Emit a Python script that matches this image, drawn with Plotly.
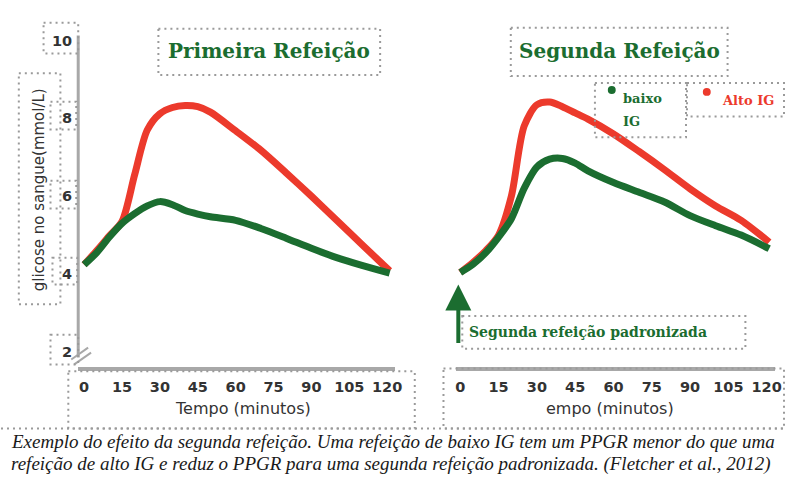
import plotly.graph_objects as go

W, H = 791, 477

# ---- data ----
t = [0, 5, 10, 15, 20, 25, 30, 35, 40, 45, 50, 60, 70, 80, 90, 100, 110, 121]
first_low  = [4.24, 4.55, 4.95, 5.30, 5.55, 5.75, 5.86, 5.78, 5.63, 5.54, 5.47, 5.38, 5.17, 4.92, 4.66, 4.42, 4.22, 4.02]
first_high = [4.24, 4.60, 4.98, 5.35, 6.55, 7.70, 8.12, 8.28, 8.33, 8.30, 8.16, 7.68, 7.18, 6.60, 6.00, 5.38, 4.76, 4.08]
second_low  = [4.04, 4.25, 4.55, 4.95, 5.42, 6.20, 6.75, 6.95, 6.97, 6.85, 6.65, 6.35, 6.10, 5.85, 5.50, 5.24, 5.00, 4.65]
second_high = [4.04, 4.30, 4.60, 5.00, 6.00, 7.80, 8.35, 8.42, 8.30, 8.14, 7.98, 7.60, 7.15, 6.68, 6.19, 5.75, 5.38, 4.82]

x_ticks = [0, 15, 30, 45, 60, 75, 90, 105, 120]
y_ticks = [2, 4, 6, 8, 10]
y_title = "glicose no sangue(mmol/L)"
x_title_left = "Tempo (minutos)"
x_title_right = "empo (minutos)"
title_left = "Primeira Refeição"
title_right = "Segunda Refeição"
legend_low = ["baixo", "IG"]
legend_high = "Alto IG"
arrow_label = "Segunda refeição padronizada"
caption = ["Exemplo do efeito da segunda refeição. Uma refeição de baixo IG tem um PPGR menor do que uma",
           "refeição de alto IG e reduz o PPGR para uma segunda refeição padronizada. (Fletcher et al., 2012)"]

RED = "#ec3a2c"
GREEN = "#1b6d30"
GRAY = "#a8a8a8"
DOT = "#9a9a9a"


def X(px):
    return px / W


def Y(py):
    return 1 - py / H


fig = go.Figure()
for xa, ya, lo, hi in [("x", "y", first_low, first_high), ("x2", "y2", second_low, second_high)]:
    fig.add_trace(go.Scatter(x=t, y=hi, xaxis=xa, yaxis=ya, mode="lines",
                             line=dict(color=RED, width=7, shape="spline", smoothing=0.8),
                             showlegend=False, hoverinfo="skip"))
    fig.add_trace(go.Scatter(x=t, y=lo, xaxis=xa, yaxis=ya, mode="lines",
                             line=dict(color=GREEN, width=7, shape="spline", smoothing=0.8),
                             showlegend=False, hoverinfo="skip"))

tickfont = dict(family="DejaVu Sans", size=14.5, color="#333333", weight="bold")
yrange = [1.60, 10.05]
fig.update_layout(
    width=W, height=H, margin=dict(l=0, r=0, t=0, b=0),
    paper_bgcolor="white", plot_bgcolor="white",
    xaxis=dict(domain=[X(78), X(398)], range=[-2.35, 123.1], tickvals=x_ticks,
               showgrid=False, zeroline=False, showline=True, linecolor=GRAY, linewidth=4,
               ticks="", tickfont=tickfont, ticklabelstandoff=3, anchor="y"),
    yaxis=dict(domain=[Y(366), Y(33)], range=yrange, tickvals=y_ticks,
               showgrid=False, zeroline=False, showline=False, ticks="",
               tickfont=tickfont, ticklabelstandoff=5, anchor="x"),
    xaxis2=dict(domain=[X(460), X(782)], range=[-1.55, 123.3], tickvals=x_ticks,
                showgrid=False, zeroline=False, showline=True, linecolor=GRAY, linewidth=4,
                ticks="", tickfont=tickfont, ticklabelstandoff=3, anchor="y2"),
    yaxis2=dict(domain=[Y(366), Y(33)], range=yrange, showgrid=False, zeroline=False,
                showline=False, showticklabels=False, anchor="x2"),
)

shapes = []


def box(x0, y0, x1, y1):
    shapes.append(dict(type="rect", xref="paper", yref="paper", x0=X(x0), x1=X(x1), y0=Y(y0), y1=Y(y1),
                       line=dict(color=DOT, width=2, dash="2px,4px"), fillcolor="rgba(0,0,0,0)", layer="above"))


def seg(x0, y0, x1, y1, color=DOT, width=2, dash="2px,4px"):
    shapes.append(dict(type="line", xref="paper", yref="paper", x0=X(x0), x1=X(x1), y0=Y(y0), y1=Y(y1),
                       line=dict(color=color, width=width, dash=dash)))


# y axis line and break marks
seg(78, 30, 78, 356, color=GRAY, width=3, dash="solid")
seg(71, 358, 88, 346, color=GRAY, width=2, dash="solid")
seg(74, 363, 91, 351, color=GRAY, width=2, dash="solid")

# dotted boxes
box(43, 17, 78, 48)      # 10
box(50, 97, 76, 125)     # 8
box(50, 177, 76, 205)    # 6
box(52, 255, 77, 282)    # 4
box(50, 333, 78, 363)    # 2
box(18, 68, 60, 302)     # y title
box(159, 23, 383, 70)    # left title
box(515, 22, 734, 71)    # right title
box(600, 78, 692, 133)   # baixo IG
box(693, 78, 791, 112)   # Alto IG
box(466, 314, 752, 347)  # arrow label
box(68, 370, 418, 428)   # left x box
box(447, 367, 791, 428)  # right x box
seg(0, 428, 791, 428)

# legend dots
for cx, cy, col in [(617, 85, GREEN), (713, 87, RED)]:
    shapes.append(dict(type="circle", xref="paper", yref="paper", x0=X(cx - 4), x1=X(cx + 4),
                       y0=Y(cy + 4), y1=Y(cy - 4), fillcolor=col, line=dict(color=col, width=0)))

fig.update_layout(shapes=shapes)

ann = []


def text(px, py, s, font, xanchor="center", **kw):
    ann.append(dict(x=X(px), y=Y(py), xref="paper", yref="paper", text=s, showarrow=False,
                    xanchor=xanchor, yanchor="middle", font=font, **kw))


title_font = dict(family="DejaVu Serif", size=20, color=GREEN, weight="bold")
text(271, 46, title_left, title_font)
text(625, 46, title_right, title_font)

axis_title_font = dict(family="DejaVu Sans", size=16, color="#333333")
text(244, 408, x_title_left, axis_title_font)
text(615, 408, x_title_right, axis_title_font)
text(38, 186, y_title, dict(family="DejaVu Sans", size=15, color="#333333"), textangle=-90)

leg_font = dict(family="DejaVu Serif", size=13, color=GREEN, weight="bold")
text(626, 94, legend_low[0], leg_font, xanchor="left")
text(626, 117, legend_low[1], leg_font, xanchor="left")
text(726, 96, legend_high, dict(family="DejaVu Serif", size=13, color=RED, weight="bold"), xanchor="left")

text(471, 330, arrow_label, dict(family="DejaVu Serif", size=14, color=GREEN, weight="bold"), xanchor="left")

cap_font = dict(family="Liberation Serif", size=19, color="#1a1a1a", style="italic")
text(8, 441, caption[0], cap_font, xanchor="left")
text(8, 464, caption[1], cap_font, xanchor="left")

# arrow
ann.append(dict(x=X(462), y=Y(282), xref="paper", yref="paper", ax=0, ay=60, axref="pixel", ayref="pixel",
                text="", showarrow=True, arrowhead=2, arrowsize=1.3, arrowwidth=4, arrowcolor=GREEN))

fig.update_layout(annotations=ann)
fig.write_html("out.html", config={"displayModeBar": False},
               post_script="document.body.style.margin='0';document.body.style.padding='0';"
                           "document.body.style.overflow='hidden';")
